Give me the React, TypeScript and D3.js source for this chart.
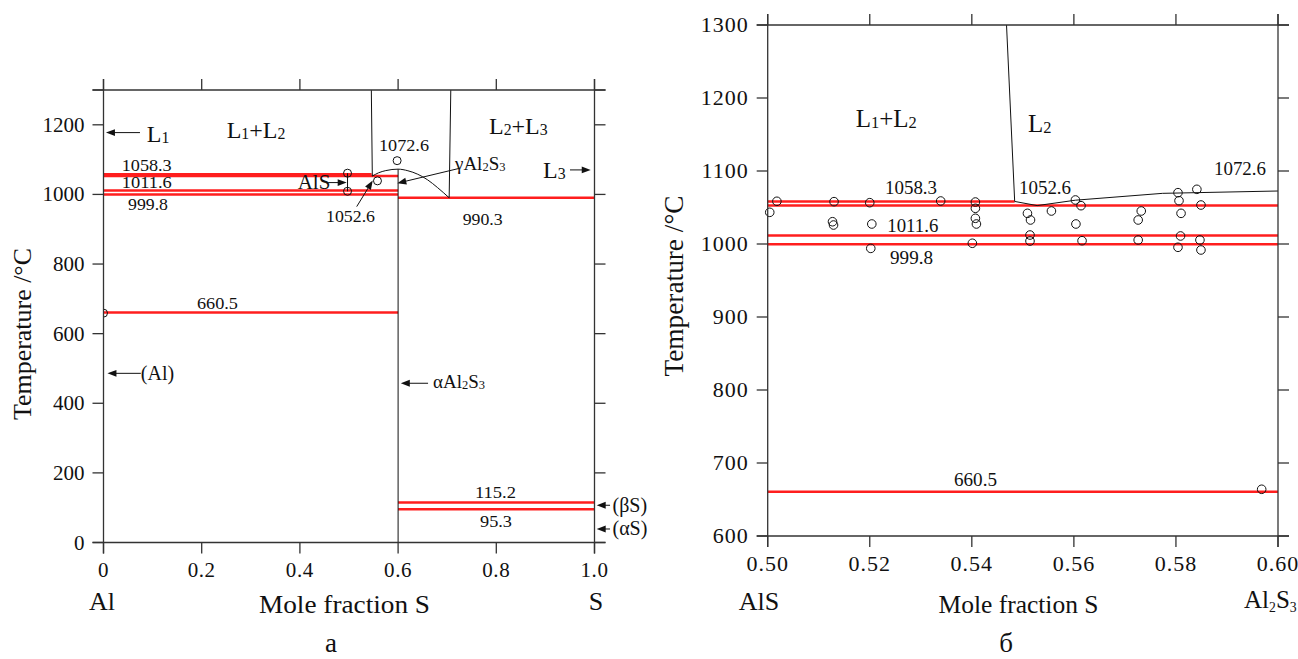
import React from 'react';
import * as d3 from 'd3';

const FONT = "'Liberation Serif', 'DejaVu Serif', 'Times New Roman', serif";

// ---------- Chart (a): full Al–S diagram ----------
const leftXTicks = [0, 0.2, 0.4, 0.6, 0.8, 1.0];
const leftXTickLabels = ['0', '0.2', '0.4', '0.6', '0.8', '1.0'];
const leftYTicks = [0, 200, 400, 600, 800, 1000, 1200];
const leftYTickLabels = ['0', '200', '400', '600', '800', '1000', '1200'];

// isotherms: temperature, composition from, composition to
const leftIsoT = [1058.3, 1052.6, 1011.6, 999.8, 990.3, 660.5, 115.2, 95.3];
const leftIsoFrom = [0, 0, 0, 0, 0.6, 0, 0.6, 0.6];
const leftIsoTo = [0.546, 0.6, 0.6, 0.6, 1.0, 0.6, 1.0, 1.0];

const leftBoundaryA: [number, number][] = [[0.5455, 1300], [0.5475, 1052.6]];
const leftBoundaryB: [number, number][] = [[0.7073, 1300], [0.704, 990.3]];
const leftAl2S3Line: [number, number][] = [[0.6, 0], [0.6, 1072.6]];
const leftDome: [number, number][] = [
  [0.5475, 1052.6], [0.56, 1062], [0.575, 1068.5], [0.6, 1072.6],
  [0.62, 1068], [0.64, 1058], [0.66, 1042], [0.68, 1020], [0.704, 990.3],
];
const leftAlSBar: [number, number][] = [[0.497, 1061], [0.497, 1009]];
const leftPointsX = [0, 0.497, 0.497, 0.558, 0.598];
const leftPointsT = [659, 1061, 1009, 1039, 1097];

// ---------- Chart (б): AlS–Al2S3 detail ----------
const rightXTicks = [0.5, 0.52, 0.54, 0.56, 0.58, 0.6];
const rightXTickLabels = ['0.50', '0.52', '0.54', '0.56', '0.58', '0.60'];
const rightYTicks = [600, 700, 800, 900, 1000, 1100, 1200, 1300];
const rightYTickLabels = ['600', '700', '800', '900', '1000', '1100', '1200', '1300'];

const rightIsoT = [1058.3, 1052.6, 1011.6, 999.8, 660.5];
const rightIsoFrom = [0.5, 0.5, 0.5, 0.5, 0.5];
const rightIsoTo = [0.5484, 0.6, 0.6, 0.6, 0.6];

const rightLiquidus: [number, number][] = [
  [0.5468, 1300], [0.5484, 1058.3], [0.5528, 1052.6], [0.5603, 1060],
  [0.5774, 1069.4], [0.6, 1072.6],
];

const rightPointsX = [
  0.5004, 0.5018, 0.513, 0.5127, 0.5129, 0.52, 0.5204, 0.5202, 0.5339,
  0.5407, 0.5407, 0.5407, 0.5409, 0.5401,
  0.5509, 0.5515, 0.5514, 0.5514, 0.5556,
  0.5603, 0.5614, 0.5604, 0.5616,
  0.5732, 0.5726, 0.5726,
  0.5804, 0.5806, 0.581, 0.5809, 0.5804,
  0.5841, 0.5849, 0.5847, 0.5849,
  0.5968,
];
const rightPointsT = [
  1043.4, 1058.5, 1058, 1030.5, 1026, 1056.6, 1027.4, 994, 1058.9,
  1057.5, 1048.9, 1035.2, 1027.4, 1001,
  1042, 1032.9, 1012.3, 1004.1, 1045.2,
  1060.3, 1052.5, 1027.4, 1004.5,
  1045.2, 1032.9, 1005.5,
  1070.3, 1059.3, 1042, 1011, 995.5,
  1074.9, 1053.4, 1005.5, 991.8,
  664,
];

type Part = [string, boolean];

function Rich(props: {
  x: number; y: number; size: number; parts: Part[]; subScale?: number; subDy?: number;
  anchor?: string; fill?: string; ls?: number;
}) {
  const { x, y, size, parts, subScale = 0.66, subDy = 1, anchor = 'start', fill = '#111', ls = 0 } = props;
  let shifted = 0;
  const spans = parts.map(([s, sub], i) => {
    const target = sub ? subDy : 0;
    const dy = target - shifted;
    shifted = target;
    return (
      <tspan key={i} dy={dy} fontSize={sub ? size * subScale : size}>{s}</tspan>
    );
  });
  return (
    <text x={x} y={y} fontSize={size} style={{ fontFamily: FONT }} textAnchor={anchor} fill={fill} letterSpacing={ls}>
      {spans}
    </text>
  );
}

function Arrow(props: { x1: number; y1: number; x2: number; y2: number }) {
  const { x1, y1, x2, y2 } = props;
  const dx = x2 - x1, dy = y2 - y1;
  const L = Math.hypot(dx, dy);
  const ux = dx / L, uy = dy / L;
  const hl = 9, hw = 3.4;
  const bx = x2 - ux * hl, by = y2 - uy * hl;
  const pts = `${x2},${y2} ${bx - uy * hw},${by + ux * hw} ${bx + uy * hw},${by - ux * hw}`;
  return (
    <g>
      <line x1={x1} y1={y1} x2={bx + ux} y2={by + uy} stroke="#111" strokeWidth={1} />
      <polygon points={pts} fill="#111" />
    </g>
  );
}

function Frame(props: {
  x: d3.ScaleLinear<number, number>; y: d3.ScaleLinear<number, number>;
  xTicks: number[]; yTicks: number[]; tick: number;
}) {
  const { x, y, xTicks, yTicks, tick } = props;
  const [x0, x1] = x.range();
  const [yb, yt] = y.range();
  const c = '#333';
  const w = 1.3;
  return (
    <g stroke={c} strokeWidth={w} fill="none">
      <line x1={x0 - tick} x2={x1 + tick} y1={yb} y2={yb} />
      <line x1={x0 - tick} x2={x1 + tick} y1={yt} y2={yt} />
      <line x1={x0} x2={x0} y1={yt - tick} y2={yb + tick} />
      <line x1={x1} x2={x1} y1={yt - tick} y2={yb + tick} />
      {xTicks.map((v, i) => (
        <g key={'x' + i}>
          <line x1={x(v)} x2={x(v)} y1={yb} y2={yb + tick} />
          <line x1={x(v)} x2={x(v)} y1={yt} y2={yt - tick} />
        </g>
      ))}
      {yTicks.map((v, i) => (
        <g key={'y' + i}>
          <line x1={x0} x2={x0 - tick} y1={y(v)} y2={y(v)} />
          <line x1={x1} x2={x1 + tick} y1={y(v)} y2={y(v)} />
        </g>
      ))}
    </g>
  );
}

function RedLine(props: { x1: number; x2: number; y: number }) {
  return (
    <line x1={props.x1} x2={props.x2} y1={props.y} y2={props.y} stroke="#ff1e1e" strokeWidth={2.5} />
  );
}

export default function App() {
  // scales
  const xL = d3.scaleLinear().domain([0, 1]).range([103.5, 594.5]);
  const yL = d3.scaleLinear().domain([0, 1300]).range([542.5, 90]);
  const xR = d3.scaleLinear().domain([0.5, 0.6]).range([767.7, 1278]);
  const yR = d3.scaleLinear().domain([600, 1300]).range([536, 25]);

  const lineL = d3.line<[number, number]>().x((d) => xL(d[0])).y((d) => yL(d[1]));
  const domeL = d3.line<[number, number]>().x((d) => xL(d[0])).y((d) => yL(d[1])).curve(d3.curveMonotoneX);
  const lineR = d3.line<[number, number]>().x((d) => xR(d[0])).y((d) => yR(d[1]));

  const ink = '#111';
  const aL = (cx: number, t: number) => [xL(cx), yL(t)];
  const aR = (cx: number, t: number) => [xR(cx), yR(t)];

  // annotation arrows (data coordinates: tail x, tail T, head x, head T)
  const leftArrows: [number, number, number, number][] = [
    [0.0743, 1177.6, 0.005, 1177.6],
    [0.9501, 1070.4, 0.9923, 1070.4],
    [0.076, 486, 0.008, 486],
    [0.661, 457.5, 0.6055, 457.5],
    [1.0316, 107, 1.0045, 107],
    [1.0316, 38.8, 1.0045, 38.8],
    [0.4576, 1034, 0.4953, 1034],
    [0.5157, 965, 0.5483, 1039.7],
    [0.726, 1075.3, 0.5984, 1032.2],
  ];

  const T = (x: number, y: number, s: number, txt: string, extra: any = {}) => (
    <text x={x} y={y} fontSize={s} fill={ink} style={{ fontFamily: FONT }} {...extra}>{txt}</text>
  );

  return (
    <svg width={1298} height={659} style={{ position: 'absolute', left: 0, top: 0, background: '#fff', fontFamily: FONT }}>
      <rect x={0} y={0} width={1298} height={659} fill="#fff" />

      {/* ================= LEFT CHART ================= */}
      <defs>
        <clipPath id="clipL">
          <rect x={xL(0)} y={yL(1300)} width={xL(1) - xL(0)} height={yL(0) - yL(1300)} />
        </clipPath>
      </defs>
      {leftIsoT.map((t, i) => (
        <RedLine key={'li' + i} x1={xL(leftIsoFrom[i])} x2={xL(leftIsoTo[i])} y={yL(t)} />
      ))}
      <g fill="none" stroke={ink} strokeWidth={1}>
        <path d={lineL(leftBoundaryA) || ''} />
        <path d={lineL(leftBoundaryB) || ''} />
        <path d={lineL(leftAl2S3Line) || ''} />
        <path d={domeL(leftDome) || ''} />
        <path d={lineL(leftAlSBar) || ''} />
      </g>
      <g fill="none" stroke={ink} strokeWidth={1}>
        {leftPointsX.map((v, i) => (
          <circle key={'lp' + i} cx={xL(v)} cy={yL(leftPointsT[i])} r={4} clipPath={i === 0 ? 'url(#clipL)' : undefined} />
        ))}
      </g>
      <Frame x={xL} y={yL} xTicks={leftXTicks} yTicks={[...leftYTicks, 1300]} tick={11} />
      {leftArrows.map((a, i) => {
        const [p1x, p1y] = aL(a[0], a[1]);
        const [p2x, p2y] = aL(a[2], a[3]);
        return <Arrow key={'la' + i} x1={p1x} y1={p1y} x2={p2x} y2={p2y} />;
      })}

      {/* left tick labels */}
      {leftXTicks.map((v, i) => (
        <g key={'lxt' + i}>{T(xL(v), yL(0) + 34, 21, leftXTickLabels[i], { textAnchor: 'middle', letterSpacing: 0.6 })}</g>
      ))}
      {leftYTicks.map((v, i) => (
        <g key={'lyt' + i}>{T(xL(0) - 19, yL(v) + 7, 21, leftYTickLabels[i], { textAnchor: 'end' })}</g>
      ))}

      {/* left annotations */}
      {T(aL(0.0371, 0)[0], aL(0, 1066.5)[1], 16.5, '1058.3', { textLength: 50, lengthAdjust: 'spacingAndGlyphs' })}
      {T(aL(0.0371, 0)[0], aL(0, 1017.8)[1], 16.5, '1011.6', { textLength: 50, lengthAdjust: 'spacingAndGlyphs' })}
      {T(aL(0.0499, 0)[0], aL(0, 955.5)[1], 16.5, '999.8', { textLength: 40, lengthAdjust: 'spacingAndGlyphs' })}
      {T(aL(0.1904, 0)[0], aL(0, 670)[1], 17, '660.5', { textLength: 41, lengthAdjust: 'spacingAndGlyphs' })}
      {T(aL(0.5611, 0)[0], aL(0, 1124.4)[1], 17, '1072.6', { textLength: 50, lengthAdjust: 'spacingAndGlyphs' })}
      {T(aL(0.4532, 0)[0], aL(0, 921.8)[1], 17, '1052.6', { textLength: 49, lengthAdjust: 'spacingAndGlyphs' })}
      {T(aL(0.7316, 0)[0], aL(0, 912.4)[1], 17, '990.3', { textLength: 40, lengthAdjust: 'spacingAndGlyphs' })}
      {T(aL(0.7566, 0)[0], aL(0, 127)[1], 17, '115.2', { textLength: 41, lengthAdjust: 'spacingAndGlyphs' })}
      {T(aL(0.7668, 0)[0], aL(0, 45.9)[1], 17, '95.3', { textLength: 32, lengthAdjust: 'spacingAndGlyphs' })}
      <Rich x={aL(0.088, 0)[0]} y={aL(0, 1151.7)[1]} size={24} parts={[['L', false], ['1', true]]} />
      <Rich x={aL(0.2509, 0)[0]} y={aL(0, 1161.4)[1]} size={24} parts={[['L', false], ['1', true], ['+L', false], ['2', true]]} />
      <Rich x={aL(0.7851, 0)[0]} y={aL(0, 1173.9)[1]} size={24} parts={[['L', false], ['2', true], ['+L', false], ['3', true]]} />
      <Rich x={aL(0.8951, 0)[0]} y={aL(0, 1047.4)[1]} size={24} parts={[['L', false], ['3', true]]} />
      <Rich x={aL(0.3955, 0)[0]} y={aL(0, 1016)[1]} size={21} parts={[['AlS', false]]} />
      <Rich x={aL(0.7159, 0)[0]} y={aL(0, 1070.4)[1]} size={19} parts={[['γAl', false], ['2', true], ['S', false], ['3', true]]} />
      <Rich x={aL(0.6711, 0)[0]} y={aL(0, 443)[1]} size={19} parts={[['αAl', false], ['2', true], ['S', false], ['3', true]]} />
      <Rich x={aL(0.076, 0)[0]} y={aL(0, 467)[1]} size={20} parts={[['(Al)', false]]} />
      <Rich x={aL(1.0366, 0)[0]} y={aL(0, 88.5)[1]} size={20} parts={[['(βS)', false]]} />
      <Rich x={aL(1.0366, 0)[0]} y={aL(0, 20.7)[1]} size={20} parts={[['(αS)', false]]} />

      {/* left axis titles */}
      {T(102, 610, 26, 'Al', { textAnchor: 'middle' })}
      {T(596, 610, 26, 'S', { textAnchor: 'middle' })}
      {T(259, 613, 26, 'Mole fraction S', { textLength: 171, lengthAdjust: 'spacingAndGlyphs' })}
      {T(0, 0, 26, 'Temperature /°C', { transform: 'translate(31,334) rotate(-90)', textAnchor: 'middle', textLength: 172, lengthAdjust: 'spacingAndGlyphs' })}
      {T(331, 652, 27, 'а', { textAnchor: 'middle' })}

      {/* ================= RIGHT CHART ================= */}
      {rightIsoT.map((t, i) => (
        <RedLine key={'ri' + i} x1={xR(rightIsoFrom[i])} x2={xR(rightIsoTo[i])} y={yR(t)} />
      ))}
      <path d={lineR(rightLiquidus) || ''} fill="none" stroke={ink} strokeWidth={1} />
      <g fill="none" stroke={ink} strokeWidth={1}>
        {rightPointsX.map((v, i) => (
          <circle key={'rp' + i} cx={xR(v)} cy={yR(rightPointsT[i])} r={4.3} />
        ))}
      </g>
      <Frame x={xR} y={yR} xTicks={rightXTicks} yTicks={rightYTicks} tick={11} />

      {rightXTicks.map((v, i) => (
        <g key={'rxt' + i}>{T(xR(v), yR(600) + 35, 22, rightXTickLabels[i], { textAnchor: 'middle', letterSpacing: 1 })}</g>
      ))}
      {rightYTicks.map((v, i) => (
        <g key={'ryt' + i}>{T(xR(0.5) - 19, yR(v) + 7, 22, rightYTickLabels[i], { textAnchor: 'end', letterSpacing: 1 })}</g>
      ))}

      {T(aR(0.58746, 0)[0], aR(0.5, 1094.5)[1], 18.5, '1072.6', { textLength: 52, lengthAdjust: 'spacingAndGlyphs' })}
      {T(aR(0.54925, 0)[0], aR(0.5, 1068.1)[1], 18.5, '1052.6', { textLength: 52, lengthAdjust: 'spacingAndGlyphs' })}
      {T(aR(0.52299, 0)[0], aR(0.5, 1068.5)[1], 18.5, '1058.3', { textLength: 52, lengthAdjust: 'spacingAndGlyphs' })}
      {T(aR(0.52344, 0)[0], aR(0.5, 1016)[1], 18.5, '1011.6', { textLength: 51, lengthAdjust: 'spacingAndGlyphs' })}
      {T(aR(0.52397, 0)[0], aR(0.5, 972.2)[1], 18.5, '999.8', { textLength: 43, lengthAdjust: 'spacingAndGlyphs' })}
      {T(aR(0.53651, 0)[0], aR(0.5, 668.5)[1], 18.5, '660.5', { textLength: 43, lengthAdjust: 'spacingAndGlyphs' })}
      <Rich x={aR(0.51724, 0)[0]} y={aR(0.5, 1160.7)[1]} size={25} parts={[['L', false], ['1', true], ['+L', false], ['2', true]]} />
      <Rich x={aR(0.55101, 0)[0]} y={aR(0.5, 1153)[1]} size={25} parts={[['L', false], ['2', true]]} />

      {T(759, 610, 26, 'AlS', { textAnchor: 'middle' })}
      {T(938.5, 613, 26, 'Mole fraction S', { textLength: 160, lengthAdjust: 'spacingAndGlyphs' })}
      <Rich x={1244} y={608} size={25} subScale={0.55} subDy={4} parts={[['Al', false], ['2', true], ['S', false], ['3', true]]} />
      {T(0, 0, 27, 'Temperature /°C', { transform: 'translate(683,286) rotate(-90)', textAnchor: 'middle', textLength: 181, lengthAdjust: 'spacingAndGlyphs' })}
      {T(1006, 652, 27, 'б', { textAnchor: 'middle' })}
    </svg>
  );
}
